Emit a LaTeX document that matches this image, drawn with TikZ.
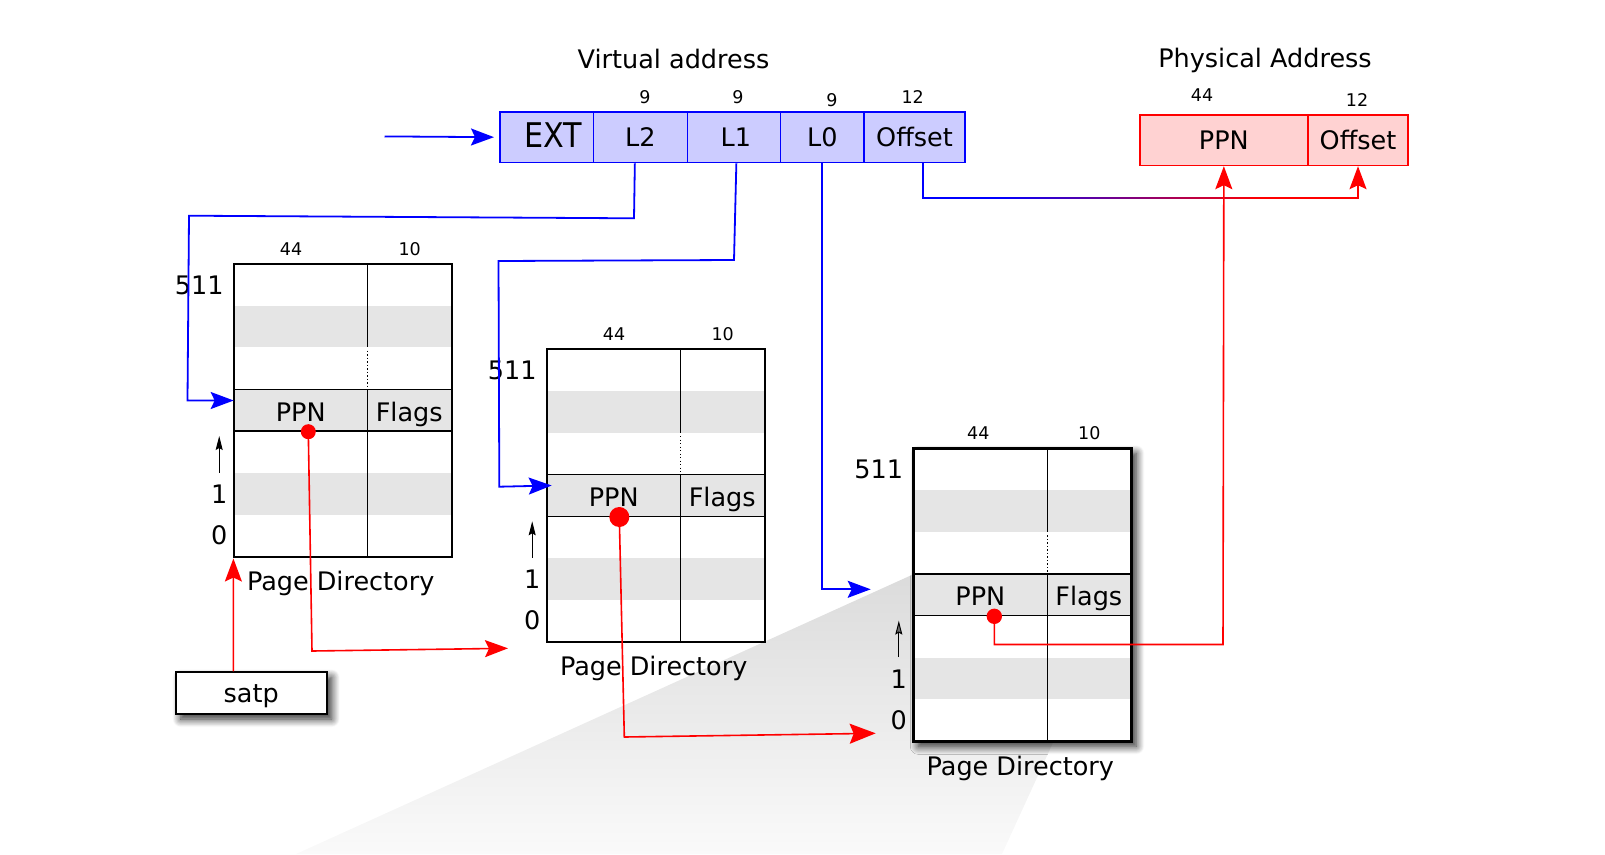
\documentclass[tikz,border=0pt]{standalone}
\usepackage{fontspec}
\usepackage{graphicx}
\setmainfont{DejaVu Sans}
\usetikzlibrary{arrows.meta,calc,shadows.blur}

\definecolor{vafill}{RGB}{204,204,255}
\definecolor{pafill}{RGB}{255,210,210}
\definecolor{band}{RGB}{229,229,229}
\definecolor{vblue}{RGB}{0,0,255}
\definecolor{pred}{RGB}{255,0,0}

\tikzset{
  lbl/.style={font=\fontsize{25.5}{30}\selectfont, inner sep=0pt, text height=18.6pt, text depth=0pt},
  bits/.style={font=\fontsize{17.5}{20}\selectfont, inner sep=0pt, text height=12.8pt, text depth=0pt},
  vfield/.style={lbl, draw=vblue, line width=1.7pt, fill=vafill, minimum height=50.7pt, anchor=north west},
  pfield/.style={lbl, draw=pred, line width=1.7pt, fill=pafill, minimum height=50.5pt, anchor=north west},
  bconn/.style={draw=vblue, line width=1.8pt},
  rconn/.style={draw=pred, line width=1.6pt},
  tipsm/.style={-{Stealth[length=23pt,width=17pt,inset=4pt]}},
  tipbg/.style={-{Stealth[length=26pt,width=20pt,inset=4pt]}},
  idx/.style={line width=1pt, -{Stealth[length=14pt,width=7pt,inset=2pt]}},
  boxshadow/.style={blur shadow={shadow xshift=5pt, shadow yshift=-5pt, shadow blur radius=8pt, shadow blur steps=12, shadow opacity=85}},
}

% One page directory: #1 name, #2/#3 top-left corner, #4 x of the PPN dot,
% #5 dot radius (pt), #6 x of the "44" label, #7 extra options for the frame
\newcommand{\pagetable}[7]{%
  \begin{scope}[shift={(#2,#3)}]
    \coordinate (#1nw) at (0,0);
    \fill[white,#7] (0,0) rectangle (218,293);
    \fill[band] (1,41.86) rectangle (217,83.71);
    \fill[band] (1,209.29) rectangle (217,251.14);
    \fill[band] (0,125.57) rectangle (218,167.43);
    \draw[line width=1.3pt] (0,125.57) -- (218,125.57) (0,167.43) -- (218,167.43);
    \draw[line width=1.3pt] (134,0) -- (134,83.71) (134,125.57) -- (134,293);
    \draw[line width=1pt, dash pattern=on 1.3pt off 2.2pt] (134,87) -- (134,125.57);
    \draw[line width=2.4pt] (0,0) rectangle (218,293);
    \node[bits] (#1w44) at (#6,-15) {44};
    \node[bits] (#1w10) at (176,-15) {10};
    \node[lbl] (#1top) at (-34.5,21.3) {511};
    \node[lbl] (#1one) at (-14.5,230.5) {1};
    \node[lbl] (#1zero) at (-14.5,271.5) {0};
    \draw[idx] (#1one.north) ++(0,-12.2) coordinate (#1ia) -- ++(0,-36.5) coordinate (#1ib);
    \node[lbl] (#1ppn) at (67,148) {PPN};
    \node[lbl] (#1flags) at (175.5,148) {Flags};
    \node[lbl] (#1title) at (107,317.5) {Page Directory};
    \coordinate (#1dot) at (#4,168);
    \fill[pred] (#1dot) circle[radius=#5pt];
  \end{scope}}

\begin{document}
\begin{tikzpicture}[x=1pt,y=-1pt]
\useasboundingbox (0,0) rectangle (1605,854);

% projection wedge behind the last-level directory
\shade[top color=black!14, bottom color=black!2]
  (913.3,574.3) -- (296,854) -- (1002,854) -- (1111,616) -- (913.3,616) -- cycle;

% page directories
\pagetable{tA}{233.7}{263.7}{74.6}{7.5}{57.3}{}
\pagetable{tB}{546.7}{349}{72.6}{10}{67.3}{}
\pagetable{tC}{913.3}{448.3}{81}{7.7}{65}{boxshadow}

% virtual address
\node[lbl] (vtitle) at (673.5,59.5) {Virtual address};
\node[vfield, minimum width=93.7pt, font=\fontsize{34}{40}\selectfont, text height=25pt, text depth=5pt]
  (vEXT) at (499,111) {\hspace{13pt}\scalebox{0.89}[1]{EXT}};
\node[vfield, minimum width=93.8pt] (vL2) at (592.7,111) {L2\hspace{9pt}};
\node[vfield, minimum width=93pt] (vL1) at (686.5,111) {\hspace{4pt}L1};
\node[vfield, minimum width=83.8pt] (vL0) at (779.5,111) {L0};
\node[vfield, minimum width=100.7pt] (vOff) at (863.3,111) {Offset};
\node[bits] (b2) at (645,97.5) {9};
\node[bits] (b1) at (738,97.5) {9};
\node[bits] (b0) at (832,100) {9};
\node[bits] (bo) at (912.7,97) {12};

% physical address
\node[lbl] (ptitle) at (1265,58.5) {Physical Address};
\node[pfield, minimum width=168pt] (pPPN) at (1139,114) {PPN};
\node[pfield, minimum width=100.3pt] (pOff) at (1307,114) {Offset};
\node[bits] (pb44) at (1202,95) {44};
\node[bits] (pb12) at (1357,99.7) {12};

% satp register
\node[lbl, draw, line width=2pt, fill=white, minimum width=151pt, minimum height=41.7pt, boxshadow]
  (satp) at (251.2,693.2) {satp};

% virtual address index fields select the entries
\coordinate (vin) at (384.5,136.4);
\draw[bconn, tipsm, shorten >=5pt] (vin) -- (vEXT.west);

\coordinate (a1) at (634,218.3);
\coordinate (a2) at (189,215.7);
\coordinate (a3) at (187.5,400.5);
\draw[bconn, tipsm] ($(vL2.south)+(-5.6,0)$) -- (a1) -- (a2) -- (a3) -- ($(tAnw)+(0,136.8)$);

\coordinate (b1c) at (734,260);
\coordinate (b2c) at (498.5,261);
\coordinate (b3c) at (499.3,486.7);
\draw[bconn, tipsm] ($(vL1.south)+(2.5,0)$) -- (b1c) -- (b2c) -- (b3c) -- ($(tBnw)+(5,136.5)$);

\coordinate (l0end) at (870.7,589.3);
\draw[bconn, tipsm] ($(vL0.south)+(-0.6,0)$) |- (l0end);

% page offset copied into the physical address; the line fades from blue to red
\coordinate (gA) at (1000,197.7);
\coordinate (gB) at (1260,197.7);
\draw[bconn] ($(vOff.south)+(8.4,0)$) |- (gA);
\foreach \i in {0,...,25} {
  \pgfmathsetmacro{\pr}{100*(\i+0.5)/26}
  \draw[line width=1.7pt, color=pred!\pr!vblue] ($(gA)+(10*\i-0.3,0)$) -- ($(gA)+(10*\i+10.3,0)$);
}
\draw[rconn, tipsm] (gB) -| (pOff.south);

% PPN chain
\draw[rconn, tipsm] ($(satp.north)+(-17.9,0)$) -- ($(tAnw)+(-0.3,294.8)$);

\coordinate (rA) at (312,651);
\coordinate (rAe) at (508,648.3);
\draw[rconn, tipsm] (tAdot) -- (rA) -- (rAe);

\coordinate (rB) at (624.3,737);
\coordinate (rBe) at (875.7,733.3);
\draw[rconn, tipbg] (tBdot) -- (rB) -- (rBe);

\coordinate (rC) at (1223,644.5);
\draw[rconn, tipsm] (tCdot) |- (rC) -- (pPPN.south);

\end{tikzpicture}
\end{document}
